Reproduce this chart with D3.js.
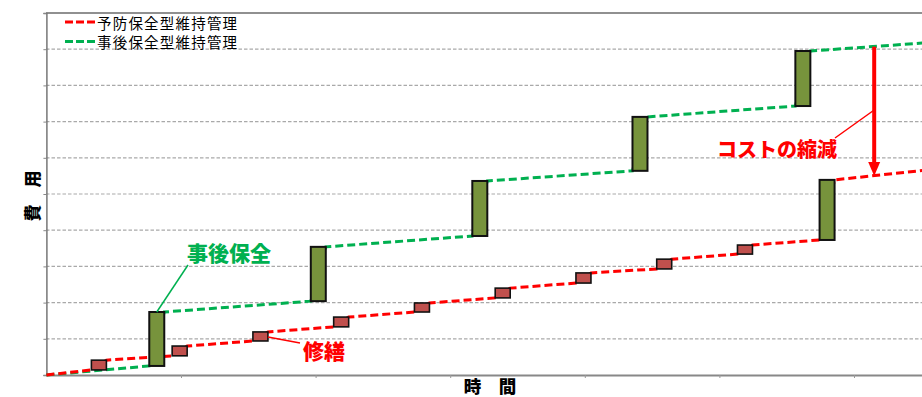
<!DOCTYPE html>
<html>
<head>
<meta charset="utf-8">
<script src="https://cdn.jsdelivr.net/npm/d3@7"></script>
<style>
  html, body { margin: 0; padding: 0; background: #fff; }
  svg { display: block; font-family: "Noto Sans CJK JP", "Noto Sans", sans-serif; }
</style>
</head>
<body>
<svg id="chart" width="922" height="397"></svg>
<script>
// Preventive maintenance: small repairs at regular intervals
const repairTime = [0.39, 0.99, 1.59, 2.19, 2.79, 3.39, 3.99, 4.59, 5.19];
const repairLow  = [0.14, 0.53, 0.94, 1.33, 1.74, 2.13, 2.54, 2.93, 3.34];
const repairHigh = [0.41, 0.80, 1.19, 1.60, 1.99, 2.40, 2.82, 3.20, 3.59];

// Preventive maintenance: one larger renewal
const renewalTime = [5.80];
const renewalLow  = [3.73];
const renewalHigh = [5.39];

// Corrective maintenance: large repairs after deterioration
const fixTime = [0.82, 2.02, 3.22, 4.41, 5.62];
const fixLow  = [0.25, 2.04, 3.84, 5.64, 7.43];
const fixHigh = [1.74, 3.54, 5.36, 7.13, 8.95];

// Where each cost line leaves the chart
const endTime = 6.51;
const preventiveEnd = 5.65;
const correctiveEnd = 9.17;

// Cost reduction arrow
const savingTime = 6.15;
const savingFrom = 9.07;
const savingTo = 5.50;

const legendLabels = ["予防保全型維持管理", "事後保全型維持管理"];
const gridValues = [1, 2, 3, 4, 5, 6, 7, 8, 9];
const timeTicks = [1, 2, 3, 4, 5, 6];

const RED = "#FF0000", GREEN = "#00B050";
const BAR_W = 15;

const svg = d3.select("#chart");
const x = d3.scaleLinear().domain([0, 6.6]).range([46.4, 46.4 + 6.6 * 134.6]);
const y = d3.scaleLinear().domain([0, 10]).range([375, 13]);

// gridlines
svg.append("g").selectAll("line").data(gridValues).join("line")
  .attr("x1", 46).attr("x2", 922)
  .attr("y1", d => y(d)).attr("y2", d => y(d))
  .attr("stroke", "#a9a9a9").attr("stroke-width", 1.2)
  .attr("stroke-dasharray", "3.5,2");

// frame top
svg.append("line").attr("x1", 46).attr("x2", 922).attr("y1", y(10)).attr("y2", y(10))
  .attr("stroke", "#222").attr("stroke-width", 1.2);

// y axis
const yAxis = svg.append("g").attr("transform", `translate(${x(0)},0)`)
  .call(d3.axisLeft(y).tickValues(d3.range(0, 11)).tickSize(3).tickFormat(""));
yAxis.selectAll("line").attr("stroke", "#888");
yAxis.select(".domain").attr("stroke", "#777").attr("stroke-width", 1.5);

// x axis
const xAxis = svg.append("g").attr("transform", `translate(0,${y(0)})`)
  .call(d3.axisBottom(x).tickValues(timeTicks).tickSize(3).tickSizeOuter(0).tickFormat(""));
xAxis.selectAll("line").attr("stroke", "#999");
xAxis.select(".domain").attr("stroke", "#888").attr("stroke-width", 2);

// builds a stepped cost path: line rises slowly, then jumps across each box
function costPath(times, lows, highs, endT, endV) {
  const pts = [[x(0), y(0)]];
  times.forEach((t, i) => {
    pts.push([x(t) - BAR_W / 2, y(lows[i])]);
    pts.push([x(t) + BAR_W / 2, y(highs[i])]);
  });
  pts.push([x(endT), y(endV)]);
  return d3.line()(pts);
}

svg.append("path")
  .attr("d", costPath(fixTime, fixLow, fixHigh, endTime, correctiveEnd))
  .attr("fill", "none").attr("stroke", GREEN).attr("stroke-width", 3)
  .attr("stroke-dasharray", "8,4");

svg.append("path")
  .attr("d", costPath(repairTime.concat(renewalTime), repairLow.concat(renewalLow),
                      repairHigh.concat(renewalHigh), endTime, preventiveEnd))
  .attr("fill", "none").attr("stroke", RED).attr("stroke-width", 3)
  .attr("stroke-dasharray", "8,4");

// boxes
function drawBoxes(times, lows, highs, fill, sw) {
  svg.append("g").selectAll("rect").data(times).join("rect")
    .attr("x", d => x(d) - BAR_W / 2)
    .attr("width", BAR_W)
    .attr("y", (d, i) => y(highs[i]))
    .attr("height", (d, i) => y(lows[i]) - y(highs[i]))
    .attr("fill", fill).attr("stroke", "#111").attr("stroke-width", sw);
}
drawBoxes(repairTime, repairLow, repairHigh, "#C0504D", 1.6);
drawBoxes(fixTime, fixLow, fixHigh, "#77933C", 2);
drawBoxes(renewalTime, renewalLow, renewalHigh, "#77933C", 2);

// cost reduction arrow
svg.append("line")
  .attr("x1", x(savingTime)).attr("x2", x(savingTime))
  .attr("y1", y(savingFrom)).attr("y2", y(savingTo) - 12)
  .attr("stroke", RED).attr("stroke-width", 4);
svg.append("path")
  .attr("d", d3.line()([[x(savingTime) - 6, y(savingTo) - 14],
                        [x(savingTime) + 6, y(savingTo) - 14],
                        [x(savingTime), y(savingTo)]]) + "Z")
  .attr("fill", RED);

// annotation leaders
svg.append("line").attr("x1", 835).attr("y1", 138).attr("x2", x(savingTime)).attr("y2", 110)
  .attr("stroke", RED).attr("stroke-width", 1.5);
svg.append("line").attr("x1", 188).attr("y1", 265).attr("x2", x(fixTime[0])).attr("y2", y(fixHigh[0]))
  .attr("stroke", GREEN).attr("stroke-width", 1.5);
svg.append("line").attr("x1", x(repairTime[2]) + BAR_W / 2).attr("y1", 337).attr("x2", 300).attr("y2", 343)
  .attr("stroke", RED).attr("stroke-width", 1.5);

// annotation labels
svg.append("text").attr("x", 777).attr("y", 148).attr("text-anchor", "middle")
  .attr("dominant-baseline", "central")
  .attr("font-size", 20).attr("font-weight", 900).attr("fill", RED).text("コストの縮減");
svg.append("text").attr("x", 229).attr("y", 252).attr("text-anchor", "middle")
  .attr("dominant-baseline", "central")
  .attr("font-size", 21).attr("font-weight", 900).attr("fill", GREEN).text("事後保全");
svg.append("text").attr("x", 324).attr("y", 350).attr("text-anchor", "middle")
  .attr("dominant-baseline", "central")
  .attr("font-size", 21).attr("font-weight", 900).attr("fill", RED).text("修繕");

// axis titles
svg.append("text").attr("x", 490).attr("y", 385).attr("text-anchor", "middle")
  .attr("dominant-baseline", "central")
  .attr("font-size", 17.5).attr("font-weight", 900).attr("fill", "#000").text("時　間");
svg.append("text").attr("transform", "translate(31,196) rotate(-90)")
  .attr("text-anchor", "middle").attr("dominant-baseline", "central")
  .attr("font-size", 17).attr("font-weight", 900).attr("fill", "#000").text("費　用");

// legend
const legend = svg.append("g");
[RED, GREEN].forEach((c, i) => {
  const ly = 22 + i * 19.5;
  legend.append("line").attr("x1", 65).attr("x2", 95).attr("y1", ly).attr("y2", ly)
    .attr("stroke", c).attr("stroke-width", 3).attr("stroke-dasharray", "8,3");
  legend.append("text").attr("x", 97).attr("y", ly).attr("dominant-baseline", "central")
    .attr("font-size", 14.5).attr("letter-spacing", 1.2).attr("fill", "#000").text(legendLabels[i]);
});
</script>
</body>
</html>
